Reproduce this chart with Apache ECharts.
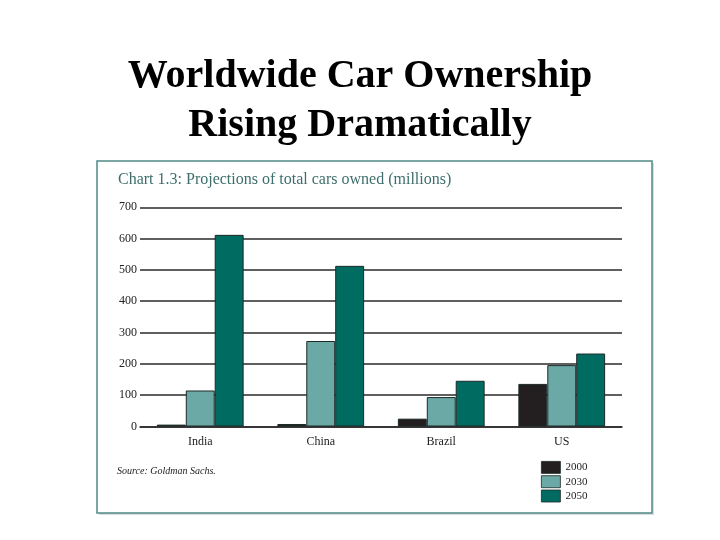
<!DOCTYPE html>
<html>
<head>
<meta charset="utf-8">
<script src="https://cdn.jsdelivr.net/npm/echarts@6/dist/echarts.min.js"></script>
<style>html,body{margin:0;padding:0;background:#fff;}#c{width:720px;height:540px;}</style>
</head>
<body>
<div id="c"></div>
<script>
var categories = ['India', 'China', 'Brazil', 'US'];
var seriesNames = ['2000', '2030', '2050'];
var values2000 = [6, 8, 25, 136];
var values2030 = [115, 273, 94, 196];
var values2050 = [612, 513, 146, 233];
var yTicks = [0, 100, 200, 300, 400, 500, 600, 700];

var colors = ['#231f20', '#6aa9a5', '#006b60'];
var serif = '"Liberation Serif", "DejaVu Serif", serif';
var chart = echarts.init(document.getElementById('c'));
var allValues = [values2000, values2030, values2050];

chart.setOption({
  backgroundColor: '#ffffff',
  animation: false,
  title: {
    text: 'Worldwide Car Ownership\nRising Dramatically',
    left: 'center',
    top: 47,
    textStyle: { fontFamily: serif, fontWeight: 'bold', fontSize: 40, lineHeight: 49, color: '#000' }
  },
  graphic: [
    { type: 'rect', shape: { x: 99, y: 163, width: 555, height: 352 }, style: { fill: '#d8dede' }, z: -2 },
    { type: 'rect', shape: { x: 97, y: 161, width: 555, height: 352 }, style: { fill: '#fff', stroke: '#4f8a86', lineWidth: 1.5 }, z: -1 },
    { type: 'text', left: 118, top: 172, style: { text: 'Chart 1.3: Projections of total cars owned (millions)', font: '16px ' + serif, fill: '#3d6e6c' } },
    { type: 'text', left: 117, top: 466, style: { text: 'Source: Goldman Sachs.', font: 'italic 10px ' + serif, fill: '#222' } }
  ],
  legend: {
    orient: 'vertical',
    left: 536,
    top: 456,
    icon: 'rect',
    itemWidth: 19,
    itemHeight: 12,
    itemGap: 1.5,
    itemStyle: { borderWidth: 0.8, borderColor: '#1c2a28' },
    textStyle: { fontFamily: serif, fontSize: 11, lineHeight: 12, color: '#222' },
    data: seriesNames
  },
  grid: { left: 140, right: 98, top: 207.3, bottom: 113.5 },
  xAxis: {
    type: 'category',
    data: categories,
    axisLine: { lineStyle: { color: '#2a2a2a', width: 1.5 } },
    axisTick: { show: false },
    axisLabel: { fontFamily: serif, fontSize: 12, color: '#222', margin: 9 }
  },
  yAxis: {
    type: 'value',
    min: 0,
    max: 700,
    interval: 100,
    axisLine: { show: false },
    axisTick: { show: false },
    axisLabel: { fontFamily: serif, fontSize: 12, color: '#222', margin: 3,
      formatter: function (v) { return yTicks.indexOf(v) >= 0 ? String(v) : ''; } },
    splitLine: { lineStyle: { color: '#2a2a2a', width: 1.5 } }
  },
  series: seriesNames.map(function (n, i) {
    return {
      name: n,
      type: 'bar',
      data: allValues[i],
      barGap: '0%',
      barCategoryGap: '28%',
      itemStyle: { color: colors[i], borderColor: '#1c2a28', borderWidth: 1 }
    };
  })
});
</script>
</body>
</html>
